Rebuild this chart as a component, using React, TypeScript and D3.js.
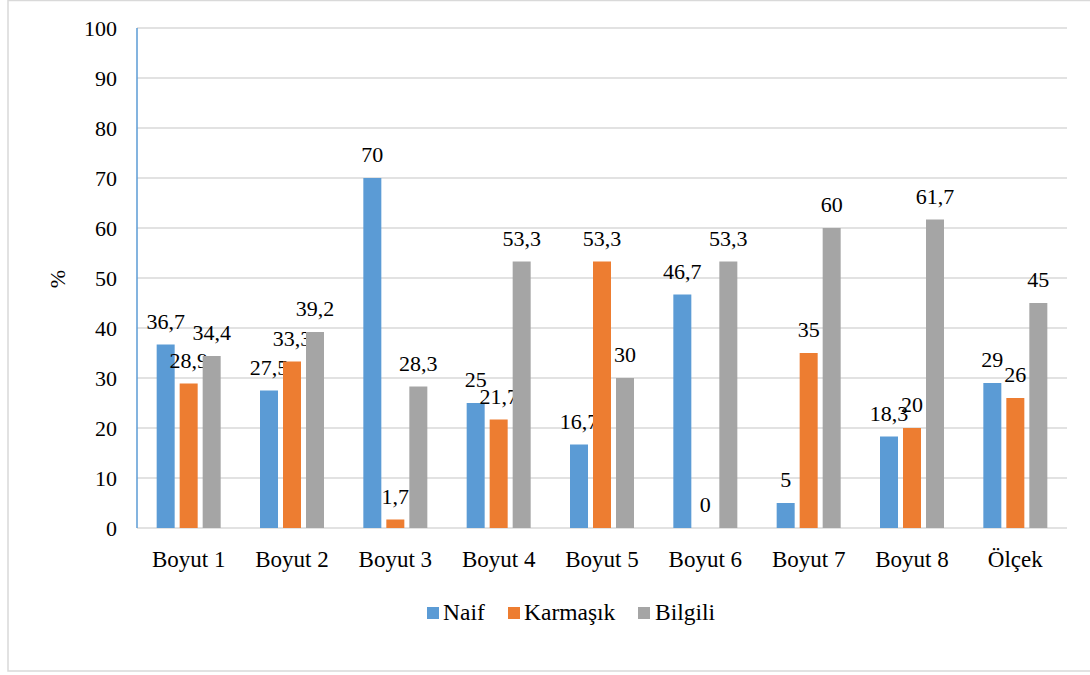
import React from "react";
import * as d3 from "d3";

const categories = ["Boyut 1", "Boyut 2", "Boyut 3", "Boyut 4", "Boyut 5", "Boyut 6", "Boyut 7", "Boyut 8", "Ölçek"];
const seriesNames = ["Naif", "Karmaşık", "Bilgili"];
const naif = [36.7, 27.5, 70, 25, 16.7, 46.7, 5, 18.3, 29];
const karmasik = [28.9, 33.3, 1.7, 21.7, 53.3, 0, 35, 20, 26];
const bilgili = [34.4, 39.2, 28.3, 53.3, 30, 53.3, 60, 61.7, 45];
const yTicks = [0, 10, 20, 30, 40, 50, 60, 70, 80, 90, 100];
const colors = ["#5B9BD5", "#ED7D31", "#A5A5A5"];

const W = 1090;
const H = 675;
const FONT = "Liberation Serif, Times New Roman, DejaVu Serif, serif";
const ts = { fontFamily: FONT, fontSize: "22px" };
const cs = { fontFamily: FONT, fontSize: "23px" };
const ls = { fontFamily: FONT, fontSize: "23.5px" };

export default function App() {
  const series = [naif, karmasik, bilgili];
  const x = d3.scaleBand<string>().domain(categories).range([137, 1067]).paddingInner(0).paddingOuter(0);
  const sub = d3.scaleBand<number>().domain([0, 1, 2]).range([-34.5, 34.5]).paddingInner(0);
  const y = d3.scaleLinear().domain([0, 100]).range([528, 28]);
  const barW = 18;
  const fmt = (v: number) => String(v).replace(".", ",");

  const legendItems = [
    { sx: 427, tx: 443 },
    { sx: 508, tx: 524 },
    { sx: 638, tx: 655 },
  ];

  return (
    <svg width={W} height={H} style={{ position: "absolute", left: 0, top: 0, background: "#fff" }}>
      <rect x={8} y={0.5} width={1100} height={670.5} fill="#fff" stroke="#d9d9d9" strokeWidth={1.5} />
      {yTicks.map((t) => (
        <g key={t}>
          {t > 0 && <line x1={137} x2={1067} y1={y(t)} y2={y(t)} stroke="#d9d9d9" strokeWidth={1.3} />}
          <text x={117} y={y(t) + 8} textAnchor="end" style={ts} fill="#000">{t}</text>
        </g>
      ))}
      <line x1={137} x2={1067} y1={y(0)} y2={y(0)} stroke="#d9d9d9" strokeWidth={1.5} />
      <line x1={137} x2={137} y1={y(100)} y2={y(0)} stroke="#5B9BD5" strokeWidth={1.5} />
      <text transform={`translate(65,279) rotate(-90)`} textAnchor="middle" style={ts} fill="#000">%</text>
      {categories.map((c, i) => {
        const cx = (x(c) as number) + x.bandwidth() / 2;
        return (
          <g key={c}>
            {series.map((s, k) => {
              const bx = cx + (sub(k) as number) + sub.bandwidth() / 2;
              const v = s[i];
              return (
                <g key={k}>
                  {v > 0 && (
                    <rect x={bx - barW / 2} y={y(v)} width={barW} height={y(0) - y(v)} fill={colors[k]} />
                  )}
                  <text x={bx} y={y(v) - 16} textAnchor="middle" style={ts} fill="#000">{fmt(v)}</text>
                </g>
              );
            })}
            <text x={cx} y={567} textAnchor="middle" style={cs} fill="#000">{c}</text>
          </g>
        );
      })}
      {seriesNames.map((n, k) => (
        <g key={n}>
          <rect x={legendItems[k].sx} y={607} width={12} height={12} fill={colors[k]} />
          <text x={legendItems[k].tx} y={620} style={ls} fill="#000">{n}</text>
        </g>
      ))}
    </svg>
  );
}
